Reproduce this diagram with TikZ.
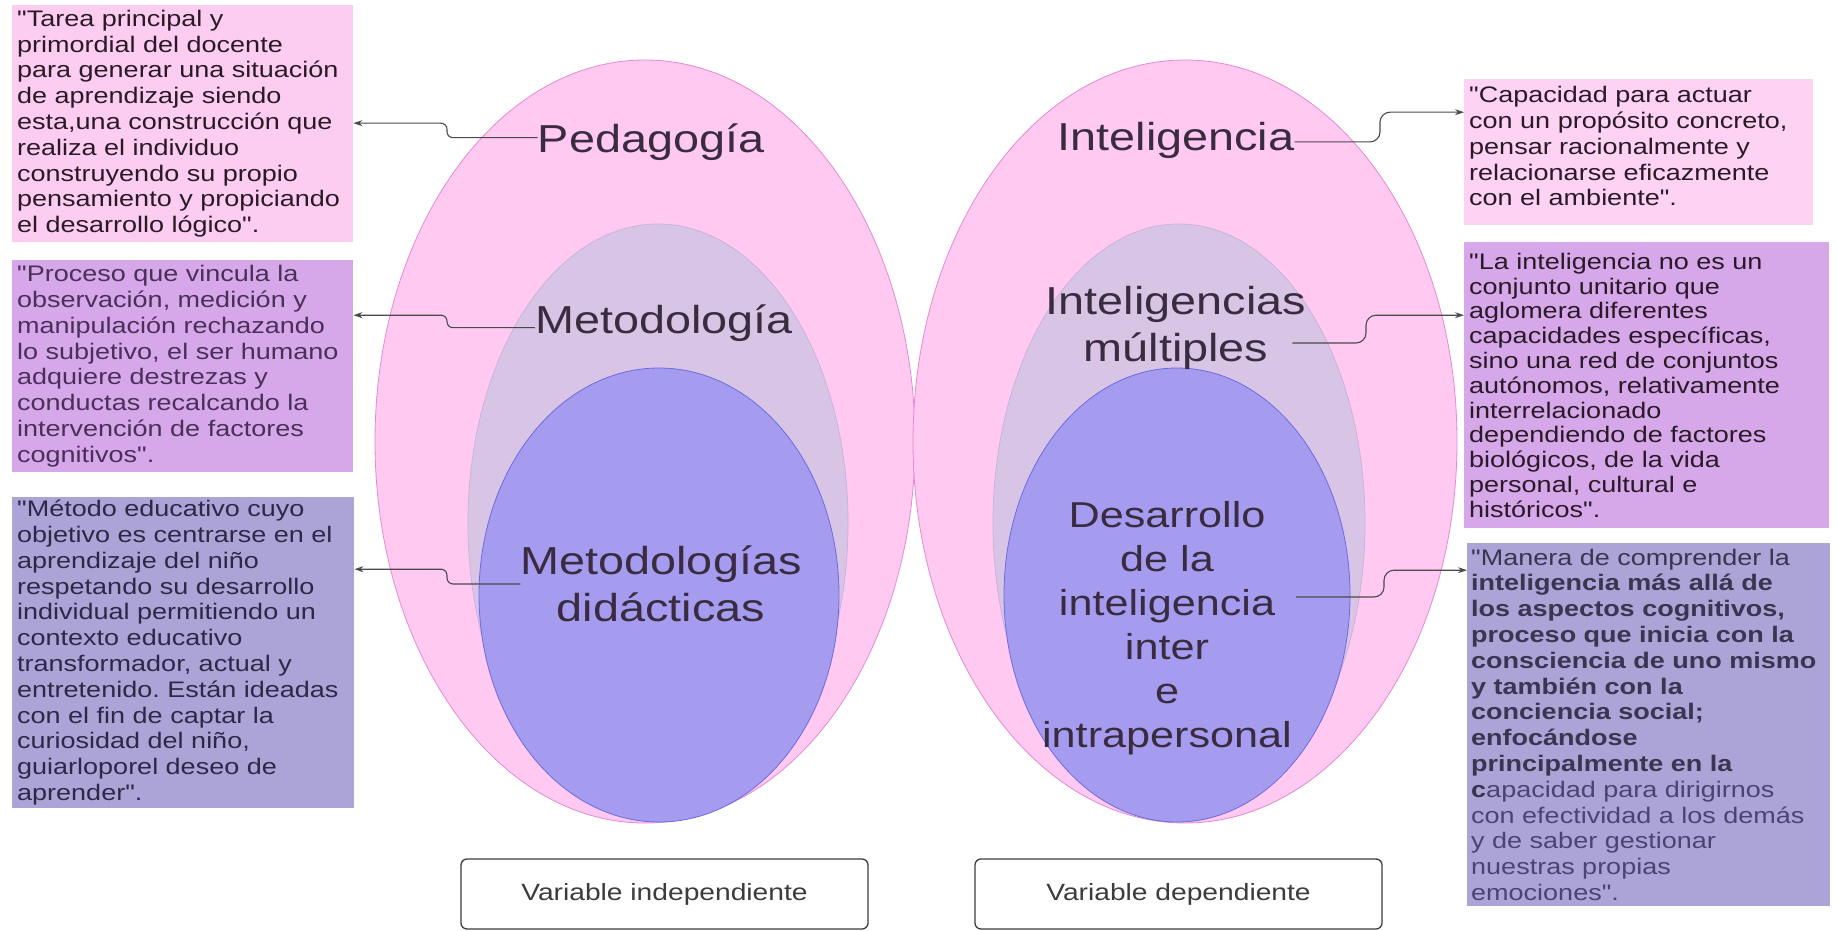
\documentclass[tikz,border=0pt]{standalone}
\usepackage{fontspec}
\newfontfamily\mf{Liberation Sans}[FakeStretch=1.2]
\usetikzlibrary{arrows.meta}
\definecolor{pinkE}{HTML}{FFC9F1}
\definecolor{pinkB}{HTML}{E58AD0}
\definecolor{midE}{HTML}{D8C5E6}
\definecolor{midB}{HTML}{C9B3DC}
\definecolor{blueE}{HTML}{A59CF0}
\definecolor{blueB}{HTML}{6D6AE0}
\definecolor{labtxt}{HTML}{3A2C40}
\definecolor{bxa}{HTML}{FDCDF1}
\definecolor{bxb}{HTML}{D6A8EA}
\definecolor{bxc}{HTML}{ACA4D6}
\definecolor{bxd}{HTML}{FDD2F3}
\definecolor{txa}{HTML}{2A1A28}
\definecolor{txb}{HTML}{4A2F5A}
\definecolor{txc}{HTML}{2E2848}
\definecolor{txd}{HTML}{3B3552}
\definecolor{txe}{HTML}{4B4470}
\definecolor{connc}{HTML}{4A4A4A}
\definecolor{vbord}{HTML}{3C3C3C}
\frenchspacing
\begin{document}
\begin{tikzpicture}[x=1pt,y=-1pt,
  lbl/.style={font=\mf\fontsize{39}{47}\selectfont, text=labtxt, inner sep=0pt, align=center},
  lbltwo/.style={font=\mf\fontsize{36}{44}\selectfont, text=labtxt, inner sep=0pt, align=center},
  txtbox/.style={anchor=north west, inner xsep=5pt, inner ysep=0pt, align=left,
     font=\mf\fontsize{22.5}{25.8}\selectfont},
  conn/.style={draw=connc, line width=1.1pt, -{Stealth[length=9pt,width=6pt]}},
  vbox/.style={draw=vbord, line width=1.3pt, rounded corners=6pt, fill=white,
     minimum width=407pt, minimum height=70pt, inner sep=0pt,
     font=\mf\fontsize{23.5}{28}\selectfont, text=vbord}]
\useasboundingbox (0,0) rectangle (1838,931);
\fill[white] (0,0) rectangle (1838,931);

% ellipses
\filldraw[fill=pinkE, draw=pinkB, line width=0.8pt] (645,441.5) ellipse [x radius=270pt, y radius=381.5pt];
\filldraw[fill=pinkE, draw=pinkB, line width=0.8pt] (1185,441.5) ellipse [x radius=272pt, y radius=381.5pt];
\filldraw[fill=midE, draw=midB, line width=0.8pt] (658,523) ellipse [x radius=190pt, y radius=299pt];
\filldraw[fill=midE, draw=midB, line width=0.8pt] (1179,523) ellipse [x radius=186pt, y radius=299pt];
\filldraw[fill=blueE, draw=blueB, line width=0.8pt] (659,595) ellipse [x radius=180pt, y radius=227pt];
\filldraw[fill=blueE, draw=blueB, line width=0.8pt] (1177,595) ellipse [x radius=173pt, y radius=227pt];

% labels
\node[lbl, anchor=base] (ped) at (651,152) {Pedagogía};
\node[lbl, anchor=base] (met) at (664,333) {Metodología};
\node[lbl] (mdd) at (661,584) {Metodologías\\didácticas};
\node[lbl, anchor=base] (int) at (1176,150) {Inteligencia};
\node[lbl] (imu) at (1176,328) {Inteligencias\\múltiples};
\node[lbltwo] (dii) at (1167,628) {Desarrollo\\de la\\inteligencia\\inter\\e\\intrapersonal};

% text boxes
\node[txtbox, fill=bxa, text=txa, text width=331pt, minimum height=237pt] (b1) at (12,5)
 {"Tarea principal y\\primordial del docente\\para generar una situación\\de aprendizaje siendo\\esta,una construcción que\\realiza el individuo\\construyendo su propio\\pensamiento y propiciando\\el desarrollo lógico".};
\node[txtbox, fill=bxb, text=txb, text width=331pt, minimum height=212pt] (b2) at (12,260)
 {"Proceso que vincula la\\observación, medición y\\manipulación rechazando\\lo subjetivo, el ser humano\\adquiere destrezas y\\conductas recalcando la\\intervención de factores\\cognitivos".};
\node[txtbox, fill=bxc, text=txc, text width=332pt, minimum height=311pt] (b3) at (12,497)
 {"Método educativo cuyo\\objetivo es centrarse en el\\aprendizaje del niño\\respetando su desarrollo\\individual permitiendo un\\contexto educativo\\transformador, actual y\\entretenido. Están ideadas\\con el fin de captar la\\curiosidad del niño,\\guiarloporel deseo de\\aprender".};
\node[txtbox, fill=bxd, text=txa, text width=339pt, minimum height=146pt] (b4) at (1464,79)
 {"Capacidad para actuar\\con un propósito concreto,\\pensar racionalmente y\\relacionarse eficazmente\\con el ambiente".\par\vspace*{12pt}};
\node[txtbox, fill=bxb, text=txa, text width=355pt, minimum height=286pt,
      font=\mf\fontsize{22.5}{24.8}\selectfont] (b5) at (1464,242)
 {"La inteligencia no es un\\conjunto unitario que\\aglomera diferentes\\capacidades específicas,\\sino una red de conjuntos\\autónomos, relativamente\\interrelacionado\\dependiendo de factores\\biológicos, de la vida\\personal, cultural e\\históricos".};
\node[txtbox, inner xsep=4pt, fill=bxc, text=txe, text width=355pt, minimum height=363pt] (b6) at (1467,543)
 {{\color{txd}"Manera de comprender la}\\{\bfseries\color{txd}inteligencia más allá de\\los aspectos cognitivos,\\proceso que inicia con la\\consciencia de uno mismo\\y también con la\\conciencia social;\\enfocándose\\principalmente en la\\c}apacidad para dirigirnos\\con efectividad a los demás\\y de saber gestionar\\nuestras propias\\emociones".};

% bottom boxes
\node[vbox] (vi) at (664.5,894) {Variable independiente};
\node[vbox] (vd) at (1178.5,894) {Variable dependiente};

% connectors
\coordinate (lx) at (447,0);
\coordinate (rx) at (1380,0);
\draw[conn, rounded corners=6pt] ([yshift=4pt]ped.west) -- ([yshift=4pt]ped.west -| lx) |- ([yshift=0.5pt]b1.east);
\draw[conn, rounded corners=6pt] ([yshift=-5pt]met.west) -- ([yshift=-5pt]met.west -| lx) |- ([yshift=51pt]b2.east);
\draw[conn, rounded corners=6pt] (mdd.west) -- (mdd.west -| lx) |- ([yshift=83.5pt]b3.east);
\draw[conn, rounded corners=10pt] ([yshift=-2pt]int.east) -- ([yshift=-2pt]int.east -| rx) |- ([yshift=40pt]b4.west);
\draw[conn, rounded corners=10pt] ([xshift=-14pt,yshift=-15pt]imu.east) -- ([xshift=-14pt,yshift=-15pt]imu.east -| rx) |- ([yshift=70pt]b5.west);
\draw[conn, rounded corners=10pt] ([xshift=4pt,yshift=31pt]dii.east) -- ([xshift=4pt,yshift=31pt]dii.east -| rx) |- ([yshift=154.5pt]b6.west);
\end{tikzpicture}
\end{document}
